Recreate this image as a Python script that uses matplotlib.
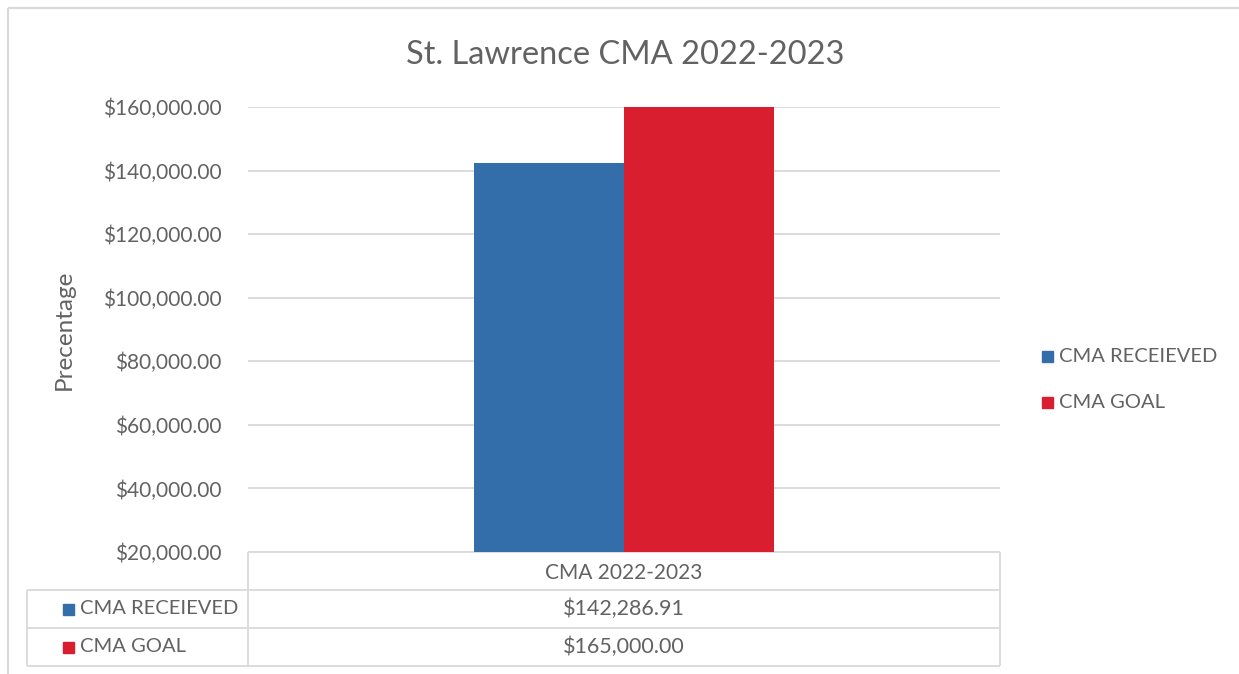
import matplotlib
matplotlib.use("Agg")
import matplotlib.pyplot as plt
from matplotlib.patches import Rectangle

# ---- data ----
title = "St. Lawrence CMA 2022-2023"
category = "CMA 2022-2023"
series_names = ["CMA RECEIEVED", "CMA GOAL"]
series_values = [142286.91, 165000.00]
series_colors = ["#336EAA", "#D81E2F"]
y_ticks = [20000, 40000, 60000, 80000, 100000, 120000, 140000, 160000]
y_label = "Precentage"

W, H = 1239, 674
plt.rcParams['font.family'] = ['Lato', 'DejaVu Sans']
txt = "#626262"
grid = "#D9D9D9"

fig = plt.figure(figsize=(W / 100, H / 100), dpi=100)

# overlay axes in pixel coordinates for border and table
ov = fig.add_axes([0, 0, 1, 1])
ov.set_xlim(0, W)
ov.set_ylim(H, 0)
ov.axis("off")

def px(x0, y0, x1, y1, lw=1.3, c=grid):
    ov.plot([x0, x1], [y0, y1], color=c, lw=lw, solid_capstyle="butt")

# chart border
px(8, 8, W, 8, lw=1.5)
px(8, 8, 8, H, lw=1.5)

# main plot axes
L, R, T, B = 248, 1000, 107, 552
ax = fig.add_axes([L / W, (H - B) / H, (R - L) / W, (B - T) / H])
ax.set_xlim(-0.5, 0.5)
ax.set_ylim(y_ticks[0], y_ticks[-1])
ax.set_yticks(y_ticks)
ax.set_yticklabels([f"${v:,.2f}" for v in y_ticks], fontsize=15, color=txt)
ax.tick_params(axis="y", length=0, pad=19)
ax.set_xticks([])
for s in ax.spines.values():
    s.set_visible(False)
ax.grid(axis="y", color=grid, lw=1.3)
ax.set_axisbelow(True)
ax.patch.set_alpha(0)

bw = 0.2
n = len(series_values)
for i, (v, c) in enumerate(zip(series_values, series_colors)):
    xc = (i - (n - 1) / 2) * bw
    ax.bar(xc, v - y_ticks[0], bottom=y_ticks[0], width=bw, color=c, zorder=2)

ax.set_ylabel(y_label, fontsize=17.5, color=txt, labelpad=20)

fig.text(625 / W, 1 - 55 / H, title, ha="center", va="center", fontsize=23.5, color=txt)

# legend (right)
for i, (name, c) in enumerate(zip(series_names, series_colors)):
    yc = 356 + i * 46
    ov.add_patch(Rectangle((1042, yc - 5.5), 11, 11, color=c))
    ov.text(1059, yc, name, va="center", ha="left", fontsize=14.5, color=txt)

# data table
rows_y = [552, 590, 628, 666]
px(L, rows_y[0], R, rows_y[0])
for yy in rows_y[1:]:
    px(27, yy, R, yy)
px(L, rows_y[0], L, rows_y[-1])
px(R, rows_y[0], R, rows_y[-1])
px(27, rows_y[1], 27, rows_y[-1])
ov.text((L + R) / 2, (rows_y[0] + rows_y[1]) / 2 + 2, category, ha="center", va="center",
        fontsize=15, color=txt)
for i, (name, v, c) in enumerate(zip(series_names, series_values, series_colors)):
    yc = (rows_y[i + 1] + rows_y[i + 2]) / 2
    ov.add_patch(Rectangle((63, yc - 5.5), 11, 11, color=c))
    ov.text(80, yc, name, va="center", ha="left", fontsize=14.5, color=txt)
    ov.text((L + R) / 2, yc, f"${v:,.2f}", va="center", ha="center", fontsize=15.5, color=txt)

fig.savefig("out.png", dpi=100, facecolor="white")
